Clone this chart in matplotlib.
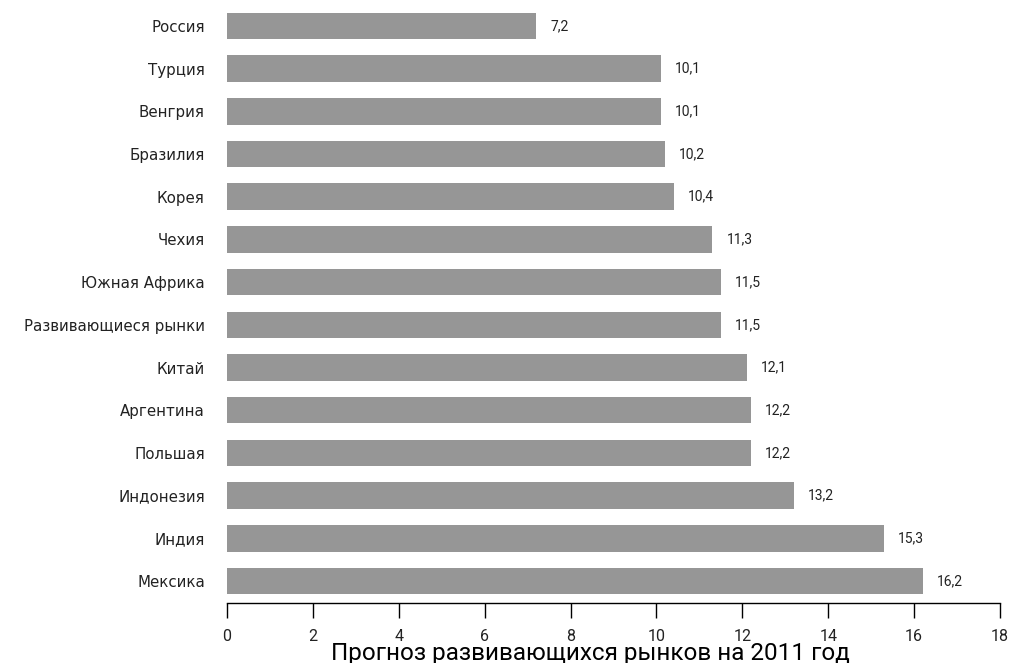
import matplotlib
matplotlib.use("Agg")
import matplotlib.pyplot as plt

countries = ["Россия", "Турция", "Венгрия", "Бразилия", "Корея", "Чехия",
             "Южная Африка", "Развивающиеся рынки", "Китай", "Аргентина",
             "Польшая", "Индонезия", "Индия", "Мексика"]
values = [7.2, 10.1, 10.1, 10.2, 10.4, 11.3, 11.5, 11.5, 12.1, 12.2,
          12.2, 13.2, 15.3, 16.2]
ticks = [0, 2, 4, 6, 8, 10, 12, 14, 16, 18]
title = "Прогноз развивающихся рынков на 2011 год"

plt.rcParams["font.family"] = ["DejaVu Sans"]

fig = plt.figure(figsize=(10.12, 6.63), dpi=100)
ax = fig.add_axes([227 / 1012, 60 / 663, 773 / 1012, 598 / 663])

n = len(countries)
ypos = [n - 1 - i for i in range(n)]
ax.barh(ypos, values, height=0.62, color="#969696")

for y, v in zip(ypos, values):
    ax.text(v + 0.33, y, f"{v:.1f}".replace(".", ","), va="center", ha="left",
            fontsize=10, family="Roboto", color="#222222")

ax.set_yticks(ypos)
ax.set_yticklabels(countries, fontsize=10.8, color="#222222")
ax.tick_params(axis="y", length=0, pad=16)

ax.set_xlim(0, 18)
ax.set_ylim(-0.515, n - 1 + 0.49)
ax.set_xticks(ticks)
ax.set_xticklabels([str(t) for t in ticks], fontsize=11.5, family="Roboto", color="#222222")
ax.tick_params(axis="x", length=11, width=1, direction="out", pad=8)

for s in ["top", "right", "left"]:
    ax.spines[s].set_visible(False)
ax.spines["bottom"].set_linewidth(1)

# title sits low and overlaps the tick labels, as in the original
fig.text(590 / 1012, 3 / 663, title, ha="center", va="baseline",
         fontsize=17.5, family="Roboto", color="#000000")

fig.savefig("out.png", dpi=100)
